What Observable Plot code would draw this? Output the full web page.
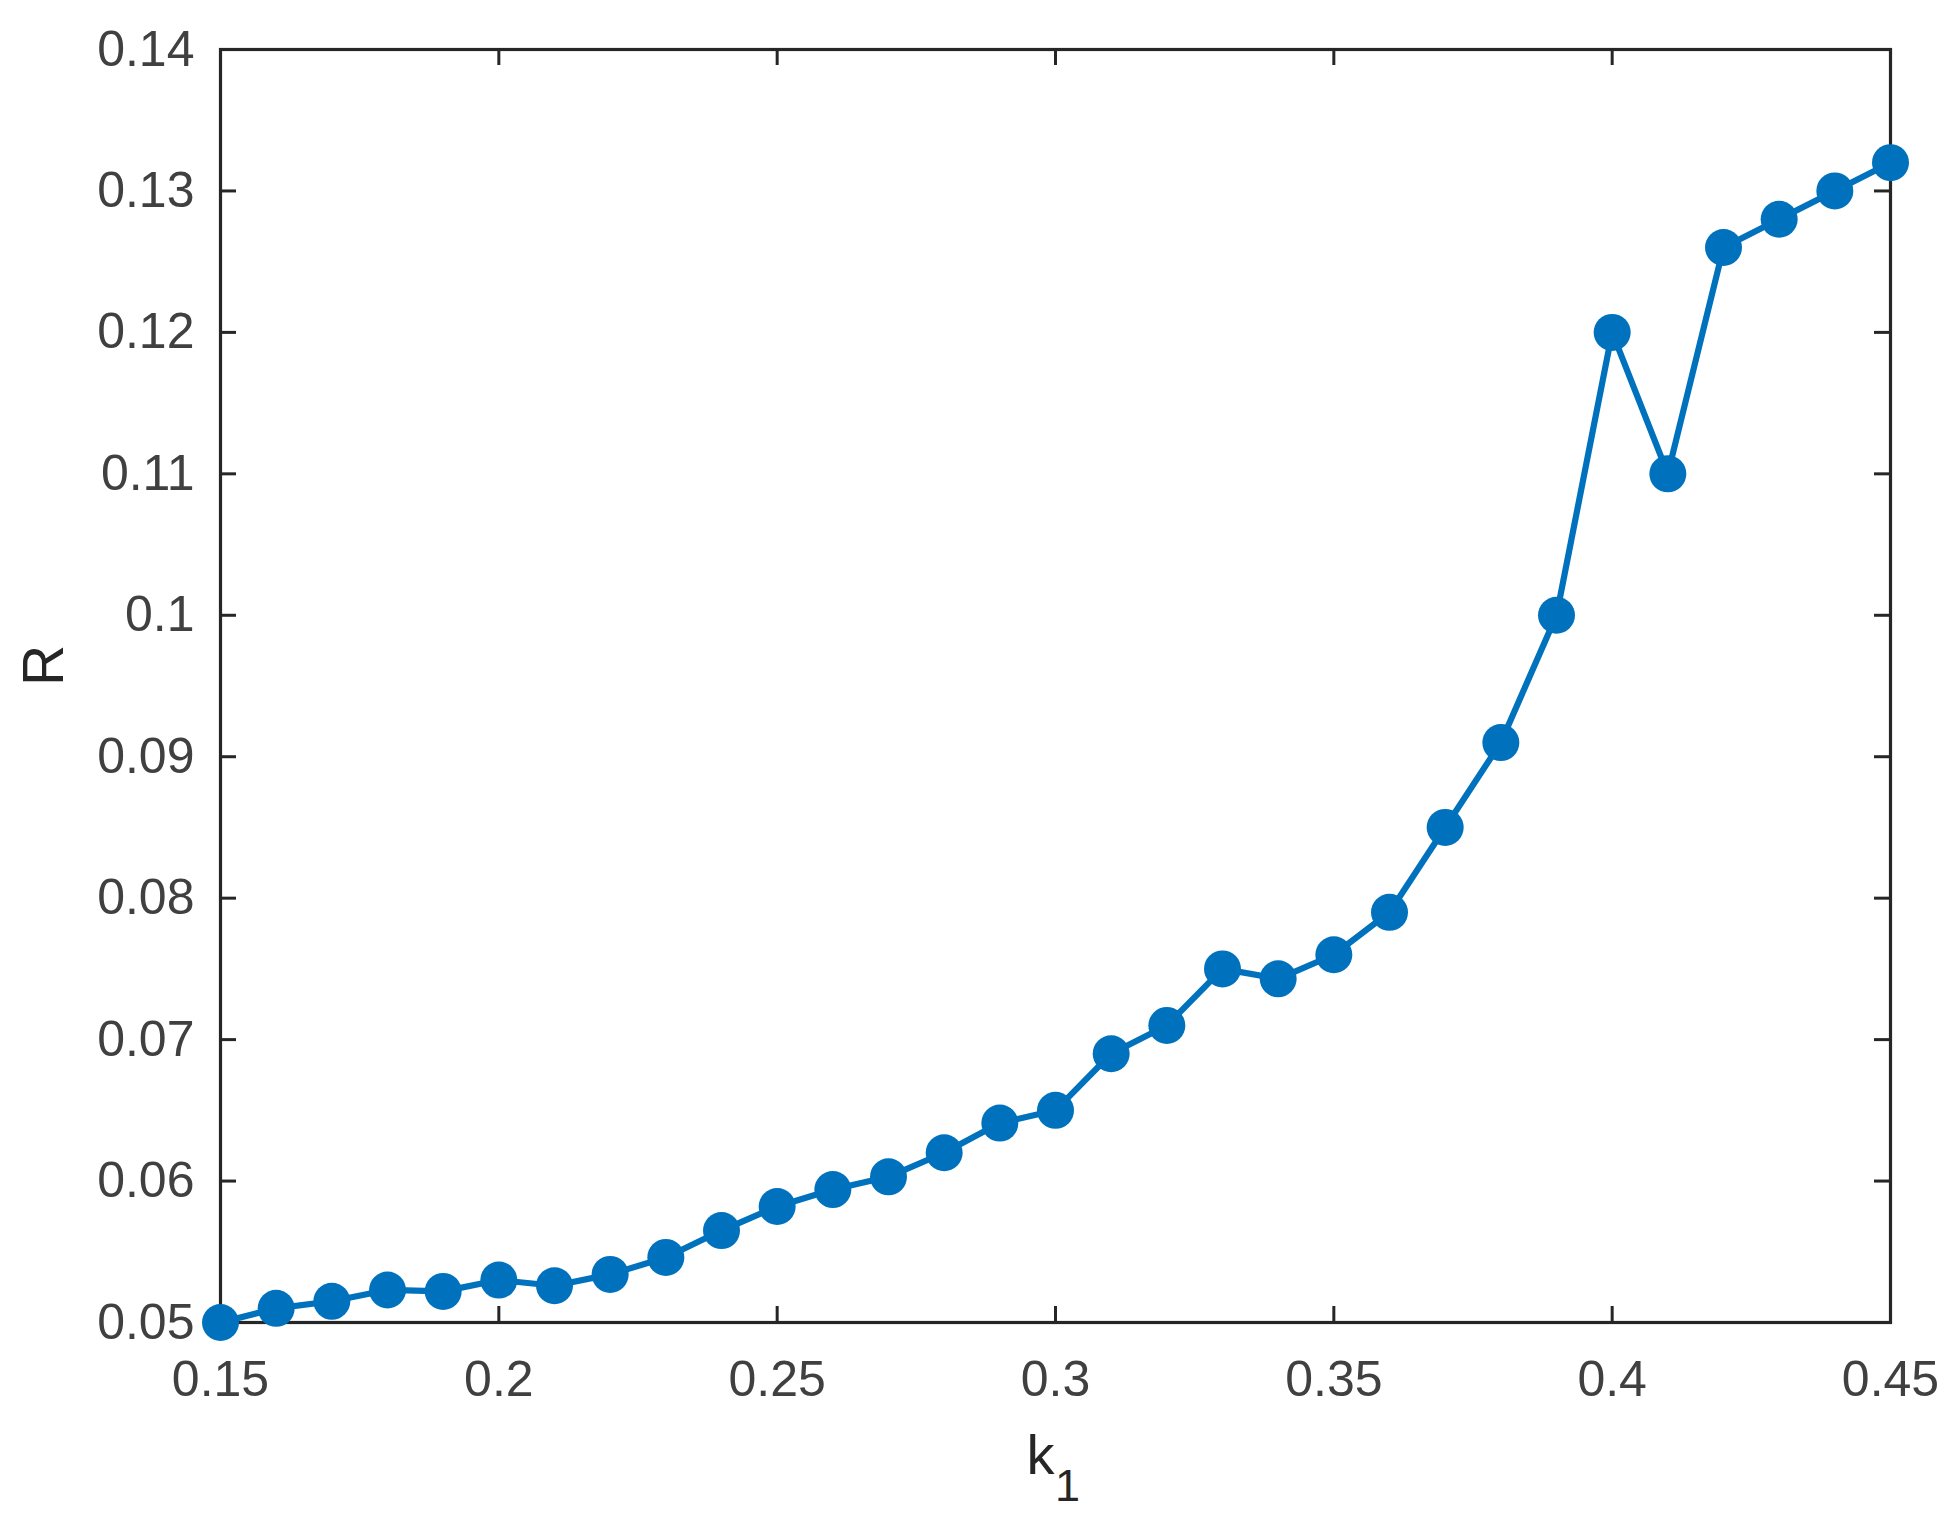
<!DOCTYPE html>
<html>
<head>
<meta charset="utf-8">
<script src="https://cdn.jsdelivr.net/npm/d3@7"></script>
<script src="https://cdn.jsdelivr.net/npm/@observablehq/plot@0.6"></script>
<style>
  html, body { margin: 0; padding: 0; background: #ffffff; }
  #chart { width: 1959px; height: 1525px; }
</style>
</head>
<body>
<div id="chart"></div>
<script>
// ---- data ----
const k1 = [0.15, 0.16, 0.17, 0.18, 0.19, 0.20, 0.21, 0.22, 0.23, 0.24, 0.25,
            0.26, 0.27, 0.28, 0.29, 0.30, 0.31, 0.32, 0.33, 0.34, 0.35, 0.36,
            0.37, 0.38, 0.39, 0.40, 0.41, 0.42, 0.43, 0.44, 0.45];
const R  = [0.0500, 0.0510, 0.0515, 0.0523, 0.0522, 0.0530, 0.0526, 0.0534, 0.0546, 0.0565, 0.0582,
            0.0594, 0.0603, 0.0620, 0.0641, 0.0650, 0.0690, 0.0710, 0.0750, 0.0743, 0.0760, 0.0790,
            0.0850, 0.0910, 0.1000, 0.1200, 0.1100, 0.1260, 0.1280, 0.1300, 0.1320];
const xTicks = [0.15, 0.2, 0.25, 0.3, 0.35, 0.4, 0.45];
const yTicks = [0.05, 0.06, 0.07, 0.08, 0.09, 0.1, 0.11, 0.12, 0.13, 0.14];
const xLabel = "k";
const xLabelSub = "1";
const yLabel = "R";

const table = k1.map((x, i) => ({x, y: R[i]}));

// ---- style ----
const W = 1959, H = 1525;
const mL = 220, mR = 69, mT = 49, mB = 203;
const innerW = W - mL - mR, innerH = H - mT - mB;
const tickLen = 16;
const axisColor = "#262626";
const labelColor = "#404040";
const lineColor = "#0072BD";
const font = "'Liberation Sans', Arial, Helvetica, sans-serif";

const chart = Plot.plot({
  width: W,
  height: H,
  marginLeft: mL,
  marginRight: mR,
  marginTop: mT,
  marginBottom: mB,
  style: {fontFamily: font, background: "#ffffff", overflow: "visible"},
  x: {domain: [0.15, 0.45]},
  y: {domain: [0.05, 0.14]},
  marks: [
    Plot.frame({stroke: axisColor, strokeWidth: 3.2}),
    // inward ticks on all four sides
    Plot.tickX(xTicks, {x: d => d, stroke: axisColor, strokeWidth: 3, insetTop: innerH - tickLen}),
    Plot.tickX(xTicks, {x: d => d, stroke: axisColor, strokeWidth: 3, insetBottom: innerH - tickLen}),
    Plot.tickY(yTicks, {y: d => d, stroke: axisColor, strokeWidth: 3, insetRight: innerW - tickLen}),
    Plot.tickY(yTicks, {y: d => d, stroke: axisColor, strokeWidth: 3, insetLeft: innerW - tickLen}),
    // tick labels
    Plot.axisX(xTicks, {anchor: "bottom", tickSize: 0, tickPadding: 38, fontSize: 50,
      fill: labelColor, label: null, tickFormat: d => String(d)}),
    Plot.axisY(yTicks, {anchor: "left", tickSize: 0, tickPadding: 26, fontSize: 50,
      fill: labelColor, label: null, tickFormat: d => String(d)}),
    // axis titles
    Plot.text([yLabel], {text: d => d, frameAnchor: "left", rotate: -90, dx: -176,
      lineAnchor: "middle", fontSize: 57, fill: axisColor}),
    Plot.text([xLabel], {text: d => d, frameAnchor: "bottom", dx: -15, dy: 151,
      lineAnchor: "bottom", fontSize: 56, fill: axisColor}),
    Plot.text([xLabelSub], {text: d => d, frameAnchor: "bottom", dx: 12, dy: 178,
      lineAnchor: "bottom", fontSize: 45, fill: axisColor}),
    // data
    Plot.line(table, {x: "x", y: "y", stroke: lineColor, strokeWidth: 6.2, strokeLinejoin: "round"}),
    Plot.dot(table, {x: "x", y: "y", r: 18.5, fill: lineColor, stroke: "none"})
  ]
});
document.getElementById("chart").appendChild(chart);
</script>
</body>
</html>
